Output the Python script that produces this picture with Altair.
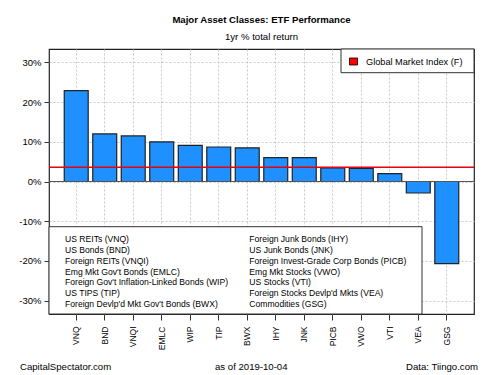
import altair as alt
import pandas as pd

tickers = ["VNQ", "BND", "VNQI", "EMLC", "WIP", "TIP", "BWX",
           "IHY", "JNK", "PICB", "VWO", "VTI", "VEA", "GSG"]
names = ["US REITs (VNQ)", "US Bonds (BND)", "Foreign REITs (VNQI)",
         "Emg Mkt Gov't Bonds (EMLC)", "Foreign Gov't Inflation-Linked Bonds (WIP)",
         "US TIPS (TIP)", "Foreign Devlp'd Mkt Gov't Bonds (BWX)",
         "Foreign Junk Bonds (IHY)", "US Junk Bonds (JNK)",
         "Foreign Invest-Grade Corp Bonds (PICB)", "Emg Mkt Stocks (VWO)",
         "US Stocks (VTI)", "Foreign Stocks Devlp'd Mkts (VEA)", "Commodities (GSG)"]
returns = [22.9, 12.0, 11.5, 10.0, 9.1, 8.7, 8.5, 6.0, 6.0, 3.4, 3.3, 2.0, -2.9, -20.7]
gmi_return = 3.6
y_ticks = [-30, -20, -10, 0, 10, 20, 30]
y_domain = [-33.4, 33.4]

title = "Major Asset Classes: ETF Performance"
subtitle = "1yr % total return"
footer_left = "CapitalSpectator.com"
footer_mid = "as of   2019-10-04"
footer_right = "Data: Tiingo.com"
gmi_label = "Global Market Index (F)"

FONT = "Liberation Sans"
W, H = 425, 265

df = pd.DataFrame({"ticker": tickers, "ret": returns})
one = pd.DataFrame({"k": [0]})

x_enc = alt.X("ticker:N", sort=None, title=None,
              scale=alt.Scale(paddingInner=0.16, paddingOuter=0.535),
              axis=alt.Axis(labelAngle=270, labelAlign="right", labelBaseline="middle",
                            labelFontSize=8.5, labelFont=FONT,
                            labelColor="#000", tickColor="#333", tickSize=6,
                            labelPadding=6, domain=False, grid=True,
                            bandPosition=0.5, gridColor="#c8c8c8",
                            gridDash=[2, 2], gridWidth=1, labelOverlap=False))
y_scale = alt.Scale(domain=y_domain, nice=False, zero=False)

bars = alt.Chart(df).mark_bar(color="#1E90FF", stroke="#222", strokeWidth=1.2).encode(
    x=x_enc,
    y=alt.Y("ret:Q", title=None, scale=y_scale,
            axis=alt.Axis(values=y_ticks, labelExpr="datum.value + '%'",
                          labelFontSize=9.5, labelFont=FONT, labelColor="#000",
                          tickColor="#333", tickSize=5, labelPadding=3,
                          domain=False, grid=True, gridColor="#c8c8c8",
                          gridDash=[2, 2], gridWidth=1)),
    y2=alt.datum(0),
)

zero_rule = alt.Chart(one).mark_rule(color="#555", strokeWidth=1).encode(
    y=alt.datum(0, scale=y_scale))
gmi_rule = alt.Chart(one).mark_rule(color="#e8000b", strokeWidth=1.5).encode(
    y=alt.datum(gmi_return, scale=y_scale))

# legend for GMI (top right)
gmi_box = alt.Chart(one).mark_rect(fill="white", stroke="#333", strokeWidth=1).encode(
    x=alt.value(292), x2=alt.value(W), y=alt.value(0), y2=alt.value(23.7))
gmi_sq = alt.Chart(one).mark_rect(fill="#ff0000", stroke="#000", strokeWidth=0.8).encode(
    x=alt.value(300.5), x2=alt.value(308.5), y=alt.value(9), y2=alt.value(16))
gmi_txt = alt.Chart(one).mark_text(align="left", baseline="middle", fontSize=9.2,
                                    font=FONT, color="#000").encode(
    x=alt.value(317), y=alt.value(12.5), text=alt.value(gmi_label))

# ticker-name legend (bottom left)
name_box = alt.Chart(one).mark_rect(fill="white", stroke="#333", strokeWidth=1).encode(
    x=alt.value(0), x2=alt.value(373), y=alt.value(177.7), y2=alt.value(H))
col1 = alt.Chart(one).mark_text(align="left", baseline="middle", fontSize=8.6,
                                 font=FONT, color="#000", lineHeight=10.8,
                                 lineBreak="\n").encode(
    x=alt.value(16), y=alt.value(190.3), text=alt.value("\n".join(names[:7])))
col2 = alt.Chart(one).mark_text(align="left", baseline="middle", fontSize=8.6,
                                 font=FONT, color="#000", lineHeight=10.8,
                                 lineBreak="\n").encode(
    x=alt.value(200.3), y=alt.value(190.3), text=alt.value("\n".join(names[7:])))

def label(txt, x, y, align="center", size=9.6, weight="normal"):
    return alt.Chart(one).mark_text(align=align, baseline="middle", fontSize=size,
                                    font=FONT, fontWeight=weight, color="#000").encode(
        x=alt.value(x), y=alt.value(y), text=alt.value(txt))

texts = [
    label(title, 212.5, -29, size=9.6, weight="bold"),
    label(subtitle, 212.5, -12, size=9.6),
    label(footer_left, -29, 318, align="left"),
    label(footer_mid, 166, 318, align="left"),
    label(footer_right, 429, 318, align="right"),
]

chart = alt.layer(bars, zero_rule, gmi_rule, gmi_box, gmi_sq, gmi_txt,
                  name_box, col1, col2, *texts).properties(
    width=W, height=H,
    padding={"left": 49, "top": 49, "right": 26, "bottom": 61},
    autosize=alt.AutoSizeParams(type="none"),
    background="white",
).configure_view(stroke="#222", strokeWidth=1.2)

chart.save("out.html", embed_options={"renderer": "svg", "actions": False})
